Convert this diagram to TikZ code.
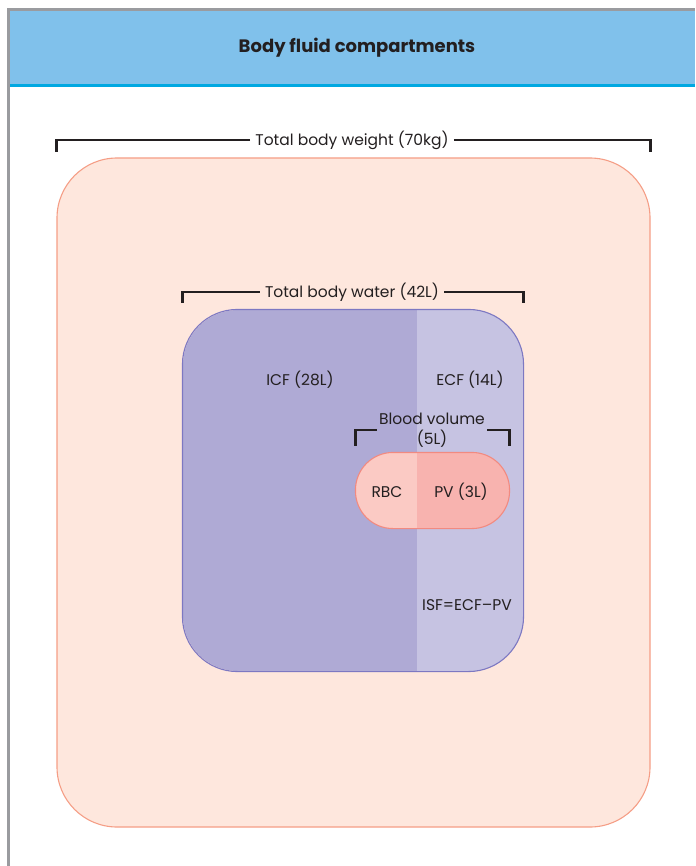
\documentclass[tikz,border=0pt]{standalone}
\usepackage{fontspec}
\setmainfont{Poppins}
\usetikzlibrary{positioning,calc}
\definecolor{cframe}{HTML}{9A9B9F}
\definecolor{chead}{HTML}{80C1EB}
\definecolor{cheadline}{HTML}{00A8E1}
\definecolor{cbody}{HTML}{FEE7DD}
\definecolor{cbodyline}{HTML}{F59E86}
\definecolor{cicf}{HTML}{AFAAD5}
\definecolor{cecf}{HTML}{C6C3E2}
\definecolor{ctbwline}{HTML}{7D78C2}
\definecolor{crbc}{HTML}{FBCAC4}
\definecolor{cpv}{HTML}{F8B3AF}
\definecolor{cpillline}{HTML}{F28A80}
\definecolor{ctext}{HTML}{231F20}

\begin{document}
\begin{tikzpicture}[x=1pt, y=-1pt, font=\fontsize{15.5}{18}\selectfont,
  lbl/.style={text=ctext, inner sep=5pt, align=center},
  brk/.style={draw=ctext, line width=2.4pt},
  cmpt/.style={inner sep=0pt, line width=1.1pt}]
\useasboundingbox (0,0) rectangle (695,866);

% ---- header band
\fill[chead] (10,11) rectangle (695,85);
\draw[cheadline, line width=3pt] (10,86) -- (695,86);
\draw[cframe, line width=3pt] (8.5,866) -- (8.5,9.5) -- (695,9.5);
\node[text=ctext, font=\fontsize{18}{21}\selectfont\bfseries] (title) at (357,48) {Body fluid compartments};

% ---- total body weight
\node[cmpt, fill=cbody, draw=cbodyline, rounded corners=60pt,
  minimum width=593pt, minimum height=669pt] (body) at (353.5,492.5) {};
\node[lbl] (tbwtlbl) at (352,140) {Total body weight (70kg)};
\draw[brk] (tbwtlbl.west) -| ($(body.north west)+(0,-5)$);
\draw[brk] (tbwtlbl.east) -| ($(body.north east)+(0,-5)$);

% ---- total body water, split ICF / ECF
\node[cmpt, fill=cicf, rounded corners=55pt,
  minimum width=340pt, minimum height=361pt] (tbw) at (353,490.5) {};
\coordinate (split) at (417,490);
\begin{scope}
  \clip[rounded corners=55pt] (tbw.south west) rectangle (tbw.north east);
  \fill[cecf] (split |- tbw.north) rectangle (tbw.south east);
\end{scope}
\draw[cmpt, draw=ctbwline, rounded corners=55pt] (tbw.south west) rectangle (tbw.north east);
\node[lbl] (tbwlbl) at (352,292) {Total body water (42L)};
\draw[brk] (tbwlbl.west) -| ($(tbw.north west)+(0,-6)$);
\draw[brk] (tbwlbl.east) -| ($(tbw.north east)+(0,-6)$);
\node[lbl] (icf) at (300,380) {ICF (28L)};
\node[lbl] (ecf) at (470,380) {ECF (14L)};

% ---- blood volume pill
\node[cmpt, minimum width=153pt, minimum height=75pt] (pill) at (432.5,490.5) {};
\begin{scope}
  \clip[rounded corners=37.5pt] (pill.south west) rectangle (pill.north east);
  \fill[crbc] (pill.south west) rectangle (split |- pill.north);
  \fill[cpv] (split |- pill.north) rectangle (pill.south east);
\end{scope}
\draw[cmpt, draw=cpillline, rounded corners=37.5pt] (pill.south west) rectangle (pill.north east);
\node[lbl, inner sep=2pt, font=\fontsize{15.5}{20}\selectfont] (bv) at (432,430) {Blood volume\\(5L)};
\draw[brk] (bv.west) -| ($(pill.north west)+(0,-6)$);
\draw[brk] (bv.east) -| ($(pill.north east)+(0,-6)$);
\node[lbl] (rbc) at (387,492) {RBC};
\node[lbl] (pv) at (461,492) {PV (3L)};
\node[lbl] (isf) at (467,605) {ISF=ECF--PV};
\end{tikzpicture}
\end{document}
